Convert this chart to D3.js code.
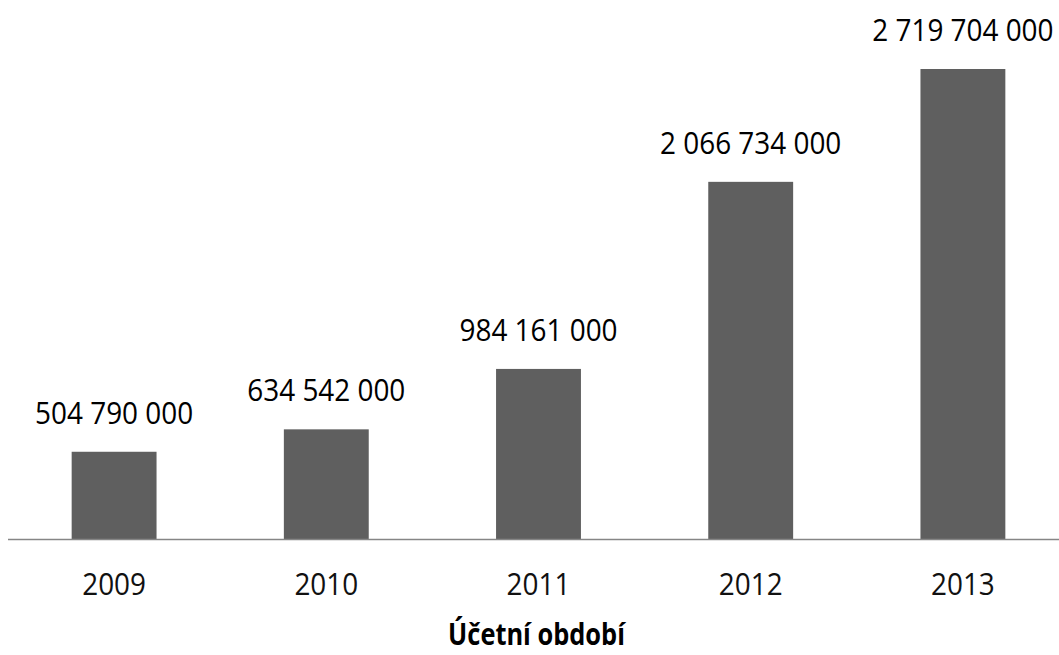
<!DOCTYPE html>
<html>
<head>
<meta charset="utf-8">
<script src="https://cdn.jsdelivr.net/npm/d3@7"></script>
<style>
  body { margin: 0; background: #fff; }
  svg { display: block; }
</style>
</head>
<body>
<div id="chart"></div>
<script>
(function () {
    var years = ["2009", "2010", "2011", "2012", "2013"];
    var values = [504790000, 634542000, 984161000, 2066734000, 2719704000];
    var axisTitle = "Účetní období";

    var W = 1059, H = 655;
    var baseY = 539, topY = 69;
    var font = "'Open Sans', sans-serif";
    var squeeze = 0.9; // calibri-ish narrow look

    var svg = d3.select("#chart").append("svg")
        .attr("width", W)
        .attr("height", H);

    var x = d3.scaleBand()
        .domain(years)
        .range([8, 1069])
        .paddingInner(0.6)
        .paddingOuter(0.3);

    var y = d3.scaleLinear()
        .domain([0, d3.max(values)])
        .range([baseY, topY]);

    var fmt = d3.formatLocale({decimal: ",", thousands: " ", grouping: [3], currency: ["", ""]}).format(",d");

    var data = years.map(function (d, i) { return {year: d, value: values[i]}; });

    svg.selectAll("rect.bar")
        .data(data)
        .enter()
        .append("rect")
        .attr("class", "bar")
        .attr("x", function (d) { return x(d.year); })
        .attr("width", x.bandwidth())
        .attr("y", function (d) { return y(d.value); })
        .attr("height", function (d) { return baseY - y(d.value); })
        .style("fill", "#5f5f5f");

    // value labels
    svg.selectAll("text.val")
        .data(data)
        .enter()
        .append("text")
        .attr("class", "val")
        .attr("transform", function (d) {
            return "translate(" + (x(d.year) + x.bandwidth() / 2) + "," + (y(d.value) - 28) + ") scale(" + squeeze + ",1)";
        })
        .attr("text-anchor", "middle")
        .style("font-family", font)
        .style("font-size", "31px")
        .style("fill", "#000")
        .text(function (d) { return fmt(d.value); });

    // x axis
    var xAxis = d3.axisBottom(x).tickSize(0).tickPadding(0);
    var gx = svg.append("g")
        .attr("transform", "translate(0," + baseY + ")")
        .call(xAxis);
    gx.select(".domain").remove();
    gx.selectAll("text")
        .attr("dy", 0)
        .attr("y", 0)
        .attr("transform", "translate(0,56) scale(" + squeeze + ",1)")
        .style("font-family", font)
        .style("font-size", "31px")
        .style("fill", "#111");

    svg.append("line")
        .attr("x1", 8).attr("x2", W)
        .attr("y1", baseY + 0.5).attr("y2", baseY + 0.5)
        .style("stroke", "#868686")
        .style("stroke-width", 1.5);

    svg.append("text")
        .attr("transform", "translate(536.5,645) scale(0.82,1)")
        .attr("text-anchor", "middle")
        .style("font-family", font)
        .style("font-size", "31px")
        .style("font-weight", "bold")
        .style("fill", "#000")
        .text(axisTitle);
})();
</script>
</body>
</html>
